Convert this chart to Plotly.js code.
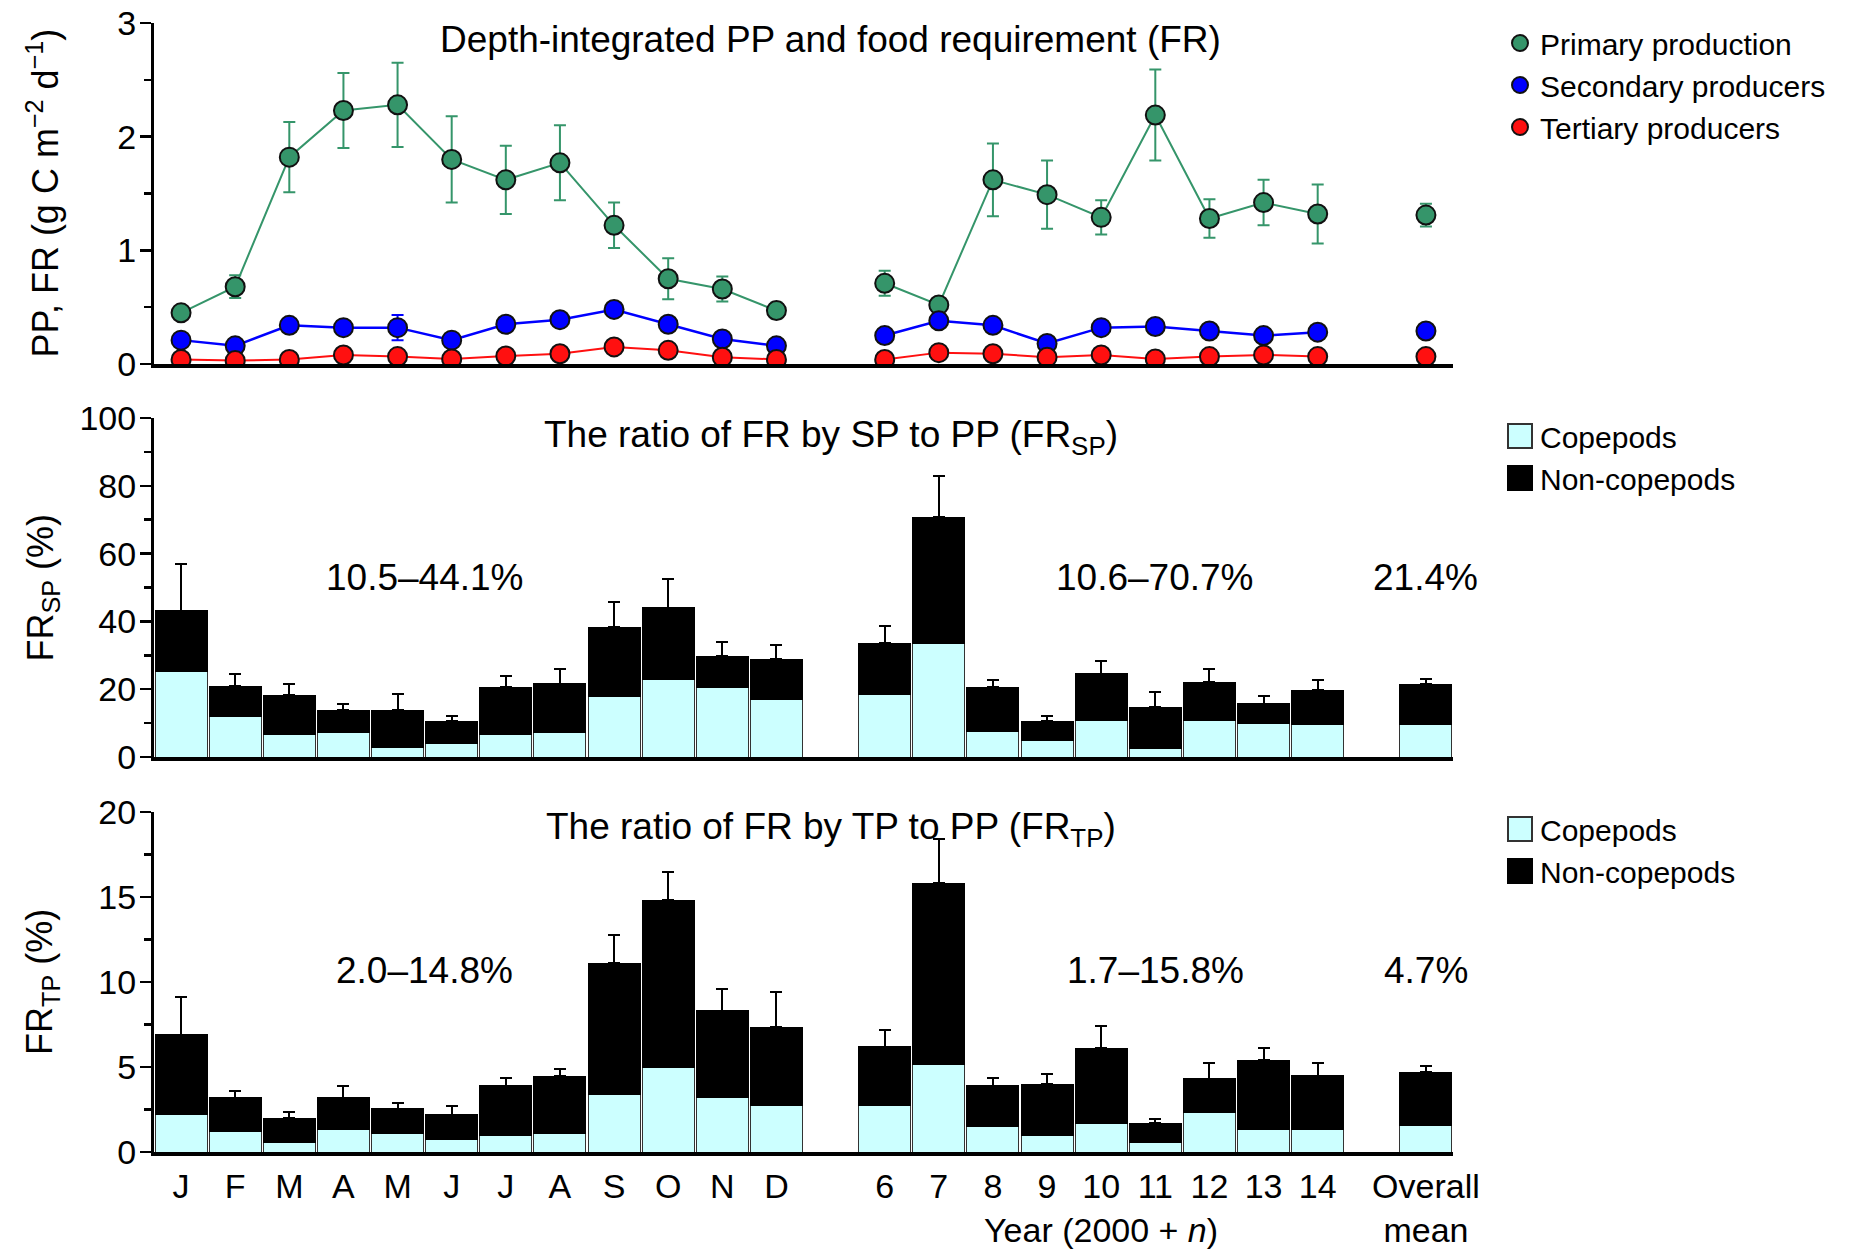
<!DOCTYPE html>
<html>
<head>
<meta charset="utf-8">
<script src="https://cdn.plot.ly/plotly-3.0.1.min.js"></script>
<style>html,body{margin:0;padding:0;background:#fff;}#chart{width:1866px;height:1250px;}</style>
</head>
<body>
<div id="chart"></div>
<script>
// ---- categories ----
const months = ['J','F','M','A','M','J','J','A','S','O','N','D'];
const years = ['6','7','8','9','10','11','12','13','14'];
const overall = ['Overall<br>mean'];

// ---- top panel: depth-integrated PP and FR (g C m-2 d-1): 12 months, 9 years, overall ----
const ppMean = [0.45,0.68,1.82,2.23,2.28,1.80,1.62,1.77,1.22,0.75,0.66,0.47, 0.71,0.52,1.62,1.49,1.29,2.19,1.28,1.42,1.32, 1.31];
const ppSE   = [0.05,0.10,0.31,0.33,0.37,0.38,0.30,0.33,0.20,0.18,0.11,0.07, 0.11,0.05,0.32,0.30,0.15,0.40,0.17,0.20,0.26, 0.10];
const spMean = [0.21,0.16,0.34,0.32,0.32,0.21,0.35,0.39,0.48,0.35,0.22,0.16, 0.25,0.38,0.34,0.18,0.32,0.33,0.29,0.25,0.28, 0.29];
const spSE   = [0.03,0.02,0.04,0.03,0.11,0.03,0.03,0.05,0.05,0.04,0.03,0.02, 0.03,0.06,0.03,0.03,0.04,0.06,0.03,0.03,0.03, 0.02];
const tpMean = [0.04,0.03,0.04,0.08,0.065,0.045,0.07,0.09,0.15,0.12,0.06,0.04, 0.04,0.10,0.09,0.06,0.08,0.045,0.065,0.08,0.065, 0.065];
const tpSE   = [0.01,0.01,0.01,0.02,0.02,0.01,0.02,0.02,0.02,0.02,0.01,0.01, 0.01,0.02,0.02,0.01,0.02,0.01,0.01,0.02,0.01, 0.01];

// ---- middle panel: FR_SP (%) ----
const spCope    = [25.1,12.0,6.5,7.3,2.9,4.1,6.5,7.3,17.9,23.0,20.6,17.1, 18.3,33.4,7.6,4.9,10.8,2.5,10.8,10.0,9.7, 9.7];
const spNonCope = [18.1,8.9,11.7,6.5,10.9,6.4,14.1,14.3,20.4,21.1,9.1,11.8, 15.3,37.3,13.0,5.7,13.7,12.2,11.3,5.7,10.0, 11.7];
const spErr     = [13.8,3.7,3.3,1.8,4.9,1.5,3.2,4.4,7.3,8.5,4.1,4.0, 4.9,12.3,2.2,1.6,3.9,4.5,3.9,2.2,3.1, 1.5];

// ---- bottom panel: FR_TP (%) ----
const tpCope    = [2.2,1.2,0.55,1.3,1.08,0.76,1.0,1.08,3.4,4.96,3.2,2.75, 2.75,5.16,1.5,1.0,1.7,0.55,2.3,1.3,1.3, 1.57];
const tpNonCope = [4.7,2.0,1.45,1.9,1.47,1.44,2.9,3.37,7.7,9.84,5.1,4.6, 3.45,10.64,2.4,3.0,4.4,1.15,2.0,4.1,3.2, 3.13];
const tpErr     = [2.2,0.4,0.35,0.7,0.35,0.5,0.45,0.45,1.65,1.7,1.3,2.05, 1.0,2.6,0.45,0.6,1.3,0.26,0.95,0.7,0.75, 0.35];

// ---- texts ----
const panelTitles = ['Depth-integrated PP and food requirement (FR)',
  'The ratio of FR by SP to PP (FR<sub>SP</sub>)',
  'The ratio of FR by TP to PP (FR<sub>TP</sub>)'];
const spRanges = ['10.5–44.1%','10.6–70.7%','21.4%'];
const tpRanges = ['2.0–14.8%','1.7–15.8%','4.7%'];

// insert gap slots between months / years / overall
function place(v){ return [...v.slice(0,12), null, ...v.slice(12,21), null, v[21]]; }
const slotLabels = place([...months, ...years, ...overall]);
const xs = slotLabels.map((_, i) => i);
const tickVals = xs.filter(i => slotLabels[i] !== null);
const tickText = tickVals.map(i => slotLabels[i]);
const zeros = xs.map(() => 0);

const FONT = '"Liberation Sans", Arial, Helvetica, sans-serif';
const GREEN = '#35956a', BLUE = '#0000ff', RED = '#ff1010';
const CYAN = '#ccffff';

const traces = [];
const series = [
  {name:'Primary production', m:ppMean, e:ppSE, c:GREEN, lw:2},
  {name:'Secondary producers', m:spMean, e:spSE, c:BLUE, lw:2.5},
  {name:'Tertiary producers', m:tpMean, e:tpSE, c:RED, lw:2}
];
series.forEach(s => {
  traces.push({type:'scatter', mode:'lines', x:xs, y:place(s.m), connectgaps:false,
    line:{color:s.c, width:s.lw}, showlegend:false, hoverinfo:'skip', xaxis:'x', yaxis:'y'});
});
series.forEach(s => {
  traces.push({type:'scatter', mode:'markers', name:s.name, x:xs, y:place(s.m),
    marker:{color:s.c, size:19, line:{color:'#111', width:2}},
    error_y:{type:'data', array:place(s.e), visible:true, color:s.c, thickness:2, width:6},
    xaxis:'x', yaxis:'y', legend:'legend'});
});

function barPair(cope, non, err, xa, ya, lg){
  traces.push({type:'bar', name:'Copepods', x:xs, y:place(cope),
    marker:{color:CYAN, line:{color:'#333', width:1}}, xaxis:xa, yaxis:ya, legend:lg});
  traces.push({type:'bar', name:'Non-copepods', x:xs, y:place(non),
    marker:{color:'#000', line:{color:'#000', width:1}},
    error_y:{type:'data', symmetric:false, array:place(err), arrayminus:zeros, color:'#000', thickness:2, width:6},
    xaxis:xa, yaxis:ya, legend:lg});
}
barPair(spCope, spNonCope, spErr, 'x2', 'y2', 'legend2');
barPair(tpCope, tpNonCope, tpErr, 'x3', 'y3', 'legend3');

const X0 = 154/1866, X1 = 1453/1866;
function dom(topPx, botPx){ return [1 - botPx/1250, 1 - topPx/1250]; }
const xBase = {domain:[X0,X1], range:[-0.5,23.5], showline:true, linecolor:'#000', linewidth:4,
  ticks:'', showgrid:false, zeroline:false, fixedrange:true};
function yBase(d, r, dt, mdt){
  return {domain:d, range:r, dtick:dt, tick0:0, ticks:'outside', ticklen:11, tickwidth:2.5, tickcolor:'#000',
    showline:true, linewidth:3, linecolor:'#000', showgrid:false, zeroline:false,
    tickfont:{size:34, color:'#000'}, ticklabelstandoff:-3,
    minor:{dtick:mdt, ticks:'outside', ticklen:7, tickwidth:2.5, tickcolor:'#000', showgrid:false}};
}

const annFont = {family:FONT, size:37, color:'#000'};
const annotations = [];
const titleY = [39, 437, 829];
panelTitles.forEach((t, k) => {
  annotations.push({text:t, xref:'x', x:12, yref:'paper', y:1 - titleY[k]/1250, showarrow:false,
    xanchor:'center', yanchor:'middle', font:annFont});
});
const rangeX = [4.5, 18, 23];
spRanges.forEach((t, k) => annotations.push({text:t, xref:'x2', x:rangeX[k], yref:'y2', y:53,
  showarrow:false, xanchor:'center', yanchor:'middle', font:annFont}));
tpRanges.forEach((t, k) => annotations.push({text:t, xref:'x3', x:rangeX[k], yref:'y3', y:10.7,
  showarrow:false, xanchor:'center', yanchor:'middle', font:annFont}));
const yTitles = [['PP, FR (g C m<sup>−2</sup> d<sup>−1</sup>)','y'], ['FR<sub>SP</sub> (%)','y2'], ['FR<sub>TP</sub> (%)','y3']];
yTitles.forEach(([t, ya]) => annotations.push({text:t, xref:'paper', x:42/1866, yref:ya + ' domain', y:0.5,
  textangle:-90, showarrow:false, xanchor:'center', yanchor:'middle', font:{family:FONT, size:36, color:'#000'}}));
annotations.push({text:'Year (2000 + <i>n</i>)', xref:'x3', x:17, yref:'paper', y:1 - 1230/1250,
  showarrow:false, xanchor:'center', yanchor:'middle', borderpad:0, font:{family:FONT, size:34, color:'#000'}});

const legFont = {family:FONT, size:30, color:'#000'};
const layout = {
  width:1866, height:1250, margin:{l:0, r:0, t:0, b:0},
  paper_bgcolor:'#fff', plot_bgcolor:'rgba(0,0,0,0)',
  font:{family:FONT, color:'#000'},
  barmode:'stack', bargap:0.04,
  xaxis:{...xBase, anchor:'y', showticklabels:false},
  xaxis2:{...xBase, anchor:'y2', showticklabels:false},
  xaxis3:{...xBase, anchor:'y3', showticklabels:true, tickvals:tickVals, ticktext:tickText,
    tickfont:{size:34, color:'#000'}, ticklabelstandoff:1},
  yaxis:{...yBase(dom(23,364), [0,3], 1, 0.5), anchor:'x'},
  yaxis2:{...yBase(dom(418,757), [0,100], 20, 10), anchor:'x2'},
  yaxis3:{...yBase(dom(812,1152), [0,20], 5, 2.5), anchor:'x3'},
  legend:{x:1500/1866, y:1 - 17/1250, xanchor:'left', yanchor:'top', font:legFont, bgcolor:'rgba(0,0,0,0)', tracegroupgap:0, itemsizing:'trace'},
  legend2:{x:1500/1866, y:1 - 410/1250, xanchor:'left', yanchor:'top', font:legFont, bgcolor:'rgba(0,0,0,0)', traceorder:'normal'},
  legend3:{x:1500/1866, y:1 - 803/1250, xanchor:'left', yanchor:'top', font:legFont, bgcolor:'rgba(0,0,0,0)', traceorder:'normal'},
  annotations:annotations,
  showlegend:true
};

Plotly.newPlot('chart', traces, layout, {staticPlot:true, displayModeBar:false}).then(() => {
  // enlarge the bar legend swatches (keep any existing translate, then scale about the symbol centre)
  document.querySelectorAll('.legendpoints path').forEach(p => {
    const d = p.getAttribute('d') || '';
    if (d.indexOf('M6,6H-6V-6H6Z') === 0) {
      const t = p.getAttribute('transform') || '';
      p.setAttribute('transform', (t + ' scale(2)').trim());
    }
  });
});
</script>
</body>
</html>
